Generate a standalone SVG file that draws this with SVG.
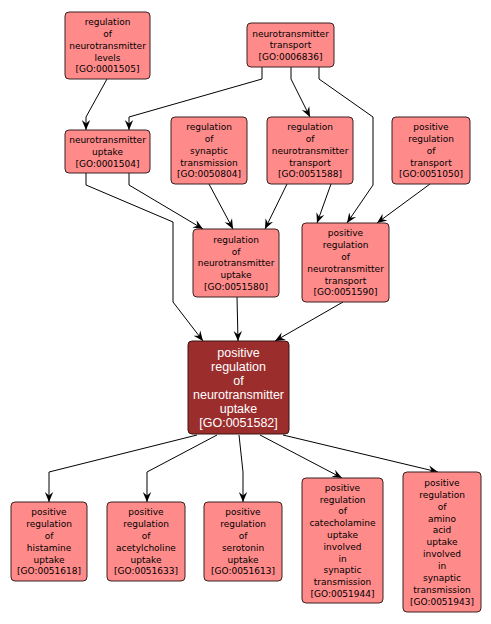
<svg xmlns="http://www.w3.org/2000/svg" width="491" height="624" viewBox="0 0 491 624">
<style>
.n rect{fill:#ff8a8a;stroke:#3a2020;stroke-width:1}
.n text{font-family:"DejaVu Sans",sans-serif;font-size:9px;fill:#000;text-anchor:middle}
.m rect{fill:#9b2d2d;stroke:#3a1515;stroke-width:1}
.m text{font-family:"Liberation Sans",Arial,sans-serif;font-size:12.5px;fill:#fff;text-anchor:middle}
.e path{fill:none;stroke:#000;stroke-width:1;marker-end:url(#a)}
</style>
<defs>
<marker id="a" markerUnits="userSpaceOnUse" markerWidth="10" markerHeight="10" viewBox="0 0 10 10" refX="10" refY="5" orient="auto">
<path d="M0,0.8 L10,5 L0,9.2 L3.5,5 z" fill="#000"/>
</marker>
</defs>
<rect width="491" height="624" fill="#fff"/>
<g id="edges" class="e">
<path d="M107,79 L86,117 L86,130"/>
<path d="M262,67 L262,79 L129,117 L129,130"/>
<path d="M291,67 L291,79 L310,117"/>
<path d="M319,67 L319,79 L373,117 L373,185 L347,223"/>
<path d="M86,173 L86,185 L173,222 L173,302 L203,341"/>
<path d="M129,173 L129,185 L203,229"/>
<path d="M209,184 L233,229"/>
<path d="M287,184 L265,229"/>
<path d="M331,184 L317,223"/>
<path d="M430,184 L377,223"/>
<path d="M237,297 L238,341"/>
<path d="M343,302 L275,341"/>
<path d="M197,435 L49,472 L49,502"/>
<path d="M217,435 L147,472 L147,502"/>
<path d="M239,435 L243,472 L243,502"/>
<path d="M260,435 L342,478"/>
<path d="M283,435 L438,472"/>
</g>
<g id="GO0001505" class="n"><rect x="65" y="12" width="85" height="67" rx="4"/>
<text><tspan x="107.5" y="25.2">regulation</tspan><tspan x="107.5" dy="11.8">of</tspan><tspan x="107.5" dy="11.8">neurotransmitter</tspan><tspan x="107.5" dy="11.8">levels</tspan><tspan x="107.5" dy="11.8">[GO:0001505]</tspan></text></g>
<g id="GO0006836" class="n"><rect x="247" y="23" width="87" height="44" rx="4"/>
<text><tspan x="290.5" y="36.5">neurotransmitter</tspan><tspan x="290.5" dy="11.8">transport</tspan><tspan x="290.5" dy="11.8">[GO:0006836]</tspan></text></g>
<g id="GO0001504" class="n"><rect x="65" y="130" width="85" height="43" rx="4"/>
<text><tspan x="107.5" y="143">neurotransmitter</tspan><tspan x="107.5" dy="11.8">uptake</tspan><tspan x="107.5" dy="11.8">[GO:0001504]</tspan></text></g>
<g id="GO0050804" class="n"><rect x="171" y="117" width="76" height="67" rx="4"/>
<text><tspan x="209" y="130.2">regulation</tspan><tspan x="209" dy="11.8">of</tspan><tspan x="209" dy="11.8">synaptic</tspan><tspan x="209" dy="11.8">transmission</tspan><tspan x="209" dy="11.8">[GO:0050804]</tspan></text></g>
<g id="GO0051588" class="n"><rect x="267" y="117" width="86" height="67" rx="4"/>
<text><tspan x="310" y="130.2">regulation</tspan><tspan x="310" dy="11.8">of</tspan><tspan x="310" dy="11.8">neurotransmitter</tspan><tspan x="310" dy="11.8">transport</tspan><tspan x="310" dy="11.8">[GO:0051588]</tspan></text></g>
<g id="GO0051050" class="n"><rect x="392" y="117" width="78" height="67" rx="4"/>
<text><tspan x="431" y="130.2">positive</tspan><tspan x="431" dy="11.8">regulation</tspan><tspan x="431" dy="11.8">of</tspan><tspan x="431" dy="11.8">transport</tspan><tspan x="431" dy="11.8">[GO:0051050]</tspan></text></g>
<g id="GO0051580" class="n"><rect x="193" y="229" width="86" height="68" rx="4"/>
<text><tspan x="236" y="242.7">regulation</tspan><tspan x="236" dy="11.8">of</tspan><tspan x="236" dy="11.8">neurotransmitter</tspan><tspan x="236" dy="11.8">uptake</tspan><tspan x="236" dy="11.8">[GO:0051580]</tspan></text></g>
<g id="GO0051590" class="n"><rect x="302" y="223" width="87" height="79" rx="4"/>
<text><tspan x="345.5" y="236.3">positive</tspan><tspan x="345.5" dy="11.8">regulation</tspan><tspan x="345.5" dy="11.8">of</tspan><tspan x="345.5" dy="11.8">neurotransmitter</tspan><tspan x="345.5" dy="11.8">transport</tspan><tspan x="345.5" dy="11.8">[GO:0051590]</tspan></text></g>
<g id="GO0051582" class="m"><rect x="188" y="341" width="101" height="93" rx="4"/>
<text><tspan x="238.5" y="357">positive</tspan><tspan x="238.5" dy="14">regulation</tspan><tspan x="238.5" dy="14">of</tspan><tspan x="238.5" dy="14">neurotransmitter</tspan><tspan x="238.5" dy="14">uptake</tspan><tspan x="238.5" dy="14">[GO:0051582]</tspan></text></g>
<g id="GO0051618" class="n"><rect x="11" y="502" width="76" height="79" rx="4"/>
<text><tspan x="49" y="515.3">positive</tspan><tspan x="49" dy="11.8">regulation</tspan><tspan x="49" dy="11.8">of</tspan><tspan x="49" dy="11.8">histamine</tspan><tspan x="49" dy="11.8">uptake</tspan><tspan x="49" dy="11.8">[GO:0051618]</tspan></text></g>
<g id="GO0051633" class="n"><rect x="107" y="502" width="78" height="79" rx="4"/>
<text><tspan x="146" y="515.3">positive</tspan><tspan x="146" dy="11.8">regulation</tspan><tspan x="146" dy="11.8">of</tspan><tspan x="146" dy="11.8">acetylcholine</tspan><tspan x="146" dy="11.8">uptake</tspan><tspan x="146" dy="11.8">[GO:0051633]</tspan></text></g>
<g id="GO0051613" class="n"><rect x="204" y="502" width="78" height="79" rx="4"/>
<text><tspan x="243" y="515.3">positive</tspan><tspan x="243" dy="11.8">regulation</tspan><tspan x="243" dy="11.8">of</tspan><tspan x="243" dy="11.8">serotonin</tspan><tspan x="243" dy="11.8">uptake</tspan><tspan x="243" dy="11.8">[GO:0051613]</tspan></text></g>
<g id="GO0051944" class="n"><rect x="302" y="478" width="81" height="125" rx="4"/>
<text><tspan x="342.5" y="490.7">positive</tspan><tspan x="342.5" dy="11.8">regulation</tspan><tspan x="342.5" dy="11.8">of</tspan><tspan x="342.5" dy="11.8">catecholamine</tspan><tspan x="342.5" dy="11.8">uptake</tspan><tspan x="342.5" dy="11.8">involved</tspan><tspan x="342.5" dy="11.8">in</tspan><tspan x="342.5" dy="11.8">synaptic</tspan><tspan x="342.5" dy="11.8">transmission</tspan><tspan x="342.5" dy="11.8">[GO:0051944]</tspan></text></g>
<g id="GO0051943" class="n"><rect x="403" y="472" width="78" height="140" rx="4"/>
<text><tspan x="442" y="485.8">positive</tspan><tspan x="442" dy="11.9">regulation</tspan><tspan x="442" dy="11.9">of</tspan><tspan x="442" dy="11.9">amino</tspan><tspan x="442" dy="11.9">acid</tspan><tspan x="442" dy="11.9">uptake</tspan><tspan x="442" dy="11.9">involved</tspan><tspan x="442" dy="11.9">in</tspan><tspan x="442" dy="11.9">synaptic</tspan><tspan x="442" dy="11.9">transmission</tspan><tspan x="442" dy="11.9">[GO:0051943]</tspan></text></g>
</svg>
